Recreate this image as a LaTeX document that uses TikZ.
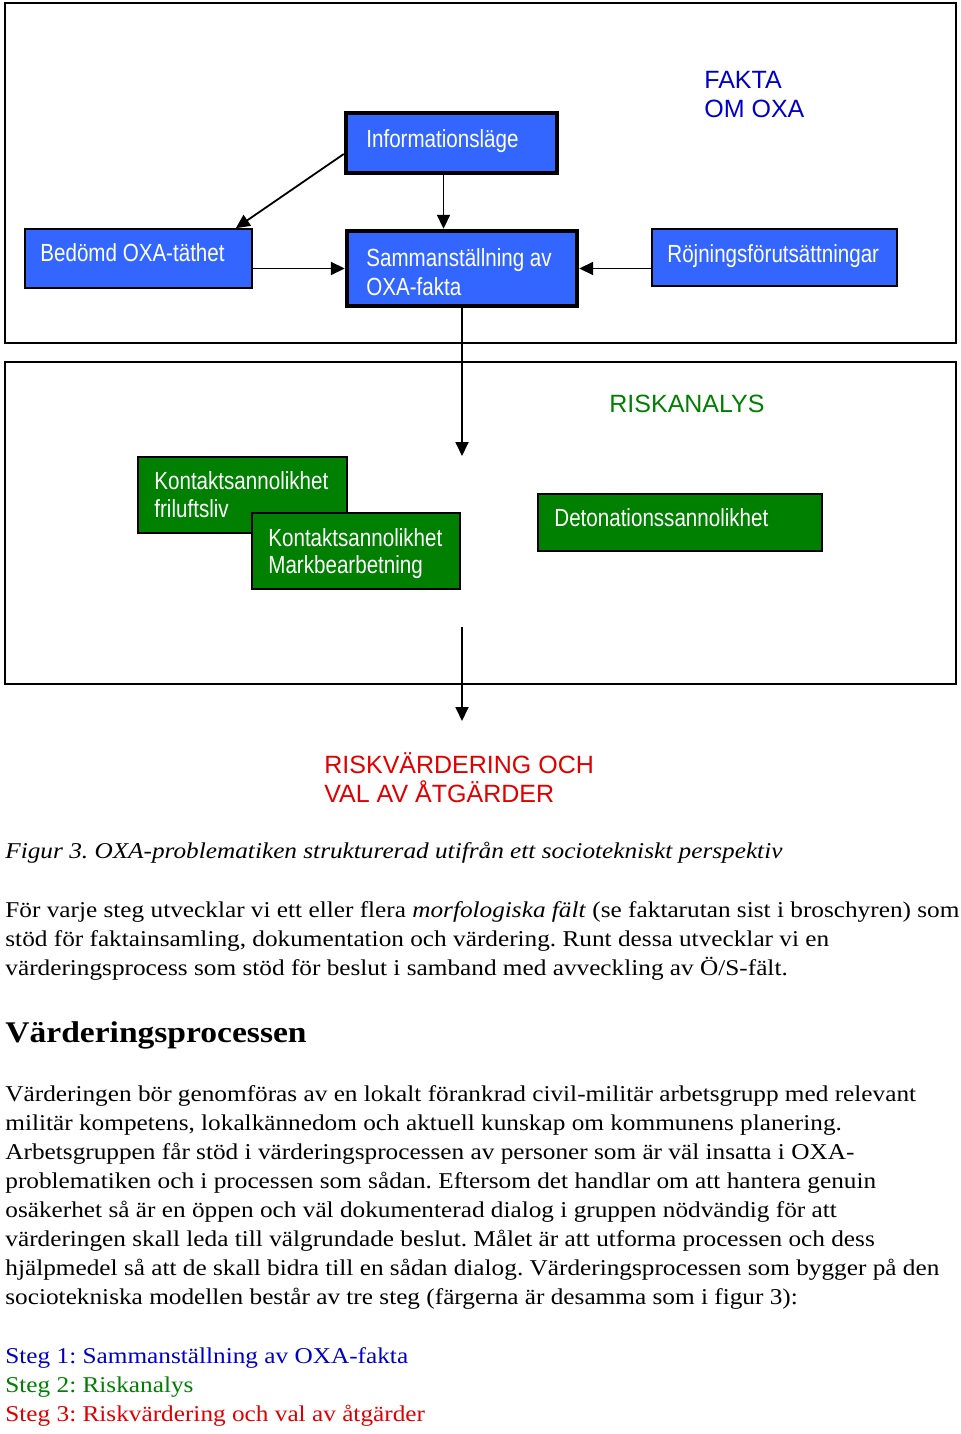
\documentclass[tikz,border=0pt]{standalone}
\usepackage{fontspec}
\setmainfont[FakeStretch=1.118]{Liberation Serif}
\newfontfamily\arialfont{Liberation Sans}
\newfontfamily\narrowfont[FakeStretch=0.83]{Liberation Sans}
\usetikzlibrary{arrows.meta,calc}
\frenchspacing

\definecolor{faktablue}{RGB}{51,102,255}
\definecolor{riskgreen}{RGB}{0,128,0}
\definecolor{rubrikblue}{RGB}{0,0,200}
\definecolor{rubrikred}{RGB}{225,0,0}

\tikzset{
  bluebox/.style={draw=black, fill=faktablue, line width=0.8pt, inner sep=0pt},
  thickbox/.style={bluebox, line width=2.2pt},
  greenbox/.style={bluebox, fill=riskgreen},
  boxtext/.style={anchor=base west, inner sep=0pt, text=white, font=\narrowfont\fontsize{12.4}{14}\selectfont},
  rubrik/.style={anchor=base west, inner sep=0pt, font=\arialfont\fontsize{12.5}{14}\selectfont},
  brodtext/.style={anchor=base west, inner sep=0pt, font=\fontsize{11.3}{13}\selectfont},
  arr/.style={-{Triangle[length=7pt,width=6.5pt]}, line width=0.9pt}
}

\begin{document}
\begin{tikzpicture}[x=0.5pt, y=-0.5pt]
  \useasboundingbox (0,0) rectangle (960,1434);
  % ramar
  \draw[line width=0.9pt] (5,3) rectangle (956,343);
  \draw[line width=0.9pt] (5,362) rectangle (956,684);

  % fakta om oxa
  \node[thickbox, minimum width=105.5pt, minimum height=30pt] (info) at (451.5,143) {};
  \node[thickbox, minimum width=115pt, minimum height=37.5pt] (samm) at (462,268.5) {};
  \node[bluebox, minimum width=113.5pt, minimum height=29.5pt] (bedomd) at (138.5,258.5) {};
  \node[bluebox, minimum width=122.5pt, minimum height=28.5pt] (rojn) at (774.5,257.5) {};
  \node[boxtext] (infotxt) at (366,148) {Informationsläge};
  \node[boxtext] (sammtxt) at (366,266) {Sammanställning av};
  \node[boxtext] (sammtxtb) at (366,295) {OXA-fakta};
  \node[boxtext] (bedomdtxt) at (40,261) {Bedömd OXA-täthet};
  \node[boxtext] (rojntxt) at (667,262) {Röjningsförutsättningar};
  \node[rubrik, text=rubrikblue] (fakta) at (704,89) {FAKTA};
  \node[rubrik, text=rubrikblue] (omoxa) at (704,118) {OM OXA};

  \draw[arr] ([yshift=-5.5pt]info.west) -- ([xshift=-8.5pt]bedomd.north east);
  \draw[arr] ([xshift=-4pt]info.south) -- ([xshift=-4pt]info.south |- samm.north);
  \draw[arr] (bedomd.east |- samm.west) -- (samm.west);
  \draw[arr] (rojn.west |- samm.east) -- (samm.east);

  % riskanalys
  \coordinate (riskin) at (462,456);
  \coordinate (riskut) at (462,627);
  \coordinate (varderin) at (462,721);
  \draw[arr] (samm.south) -- (riskin);
  \draw[arr] (riskut) -- (varderin);

  \node[rubrik, text=riskgreen] (riskanalys) at (609,412) {RISKANALYS};
  \node[greenbox, minimum width=104.5pt, minimum height=38pt] (kontfri) at (242.5,495) {};
  \node[greenbox, minimum width=104pt, minimum height=38pt] (kontmark) at (356,551) {};
  \node[greenbox, minimum width=142pt, minimum height=28.5pt] (deton) at (680,522.5) {};
  \node[boxtext] (kontfritxt) at (154,489) {Kontaktsannolikhet};
  \node[boxtext] (kontfritxtb) at (154,517) {friluftsliv};
  \node[boxtext] (kontmarktxt) at (268,546) {Kontaktsannolikhet};
  \node[boxtext] (kontmarktxtb) at (268,573) {Markbearbetning};
  \node[boxtext] (detontxt) at (554,526) {Detonationssannolikhet};

  % riskvardering
  \node[rubrik, text=rubrikred] (riskvard) at (324,773) {RISKVÄRDERING OCH};
  \node[rubrik, text=rubrikred] (riskvardb) at (324,802) {VAL AV ÅTGÄRDER};

  % text under figuren
  \node[brodtext] (figtext) at (5,858) {\textit{Figur 3. OXA-problematiken strukturerad utifrån ett sociotekniskt perspektiv}};
  \node[brodtext] (stycke1a) at (5,917) {För varje steg utvecklar vi ett eller flera \textit{morfologiska fält} (se faktarutan sist i broschyren) som};
  \node[brodtext] (stycke1b) at (5,946) {stöd för faktainsamling, dokumentation och värdering. Runt dessa utvecklar vi en};
  \node[brodtext] (stycke1c) at (5,975) {värderingsprocess som stöd för beslut i samband med avveckling av Ö/S-fält.};
  \node[brodtext, font=\bfseries\fontsize{15}{17}\selectfont] (rubrikvard) at (5,1042) {Värderingsprocessen};
  \node[brodtext] (stycke2a) at (5,1101) {Värderingen bör genomföras av en lokalt förankrad civil-militär arbetsgrupp med relevant};
  \node[brodtext] (stycke2b) at (5,1130) {militär kompetens, lokalkännedom och aktuell kunskap om kommunens planering.};
  \node[brodtext] (stycke2c) at (5,1159) {Arbetsgruppen får stöd i värderingsprocessen av personer som är väl insatta i OXA-};
  \node[brodtext] (stycke2d) at (5,1188) {problematiken och i processen som sådan. Eftersom det handlar om att hantera genuin};
  \node[brodtext] (stycke2e) at (5,1217) {osäkerhet så är en öppen och väl dokumenterad dialog i gruppen nödvändig för att};
  \node[brodtext] (stycke2f) at (5,1246) {värderingen skall leda till välgrundade beslut. Målet är att utforma processen och dess};
  \node[brodtext] (stycke2g) at (5,1275) {hjälpmedel så att de skall bidra till en sådan dialog. Värderingsprocessen som bygger på den};
  \node[brodtext] (stycke2h) at (5,1304) {sociotekniska modellen består av tre steg (färgerna är desamma som i figur 3):};
  \node[brodtext, text=rubrikblue] (steg1) at (5,1363) {Steg 1: Sammanställning av OXA-fakta};
  \node[brodtext, text=riskgreen] (steg2) at (5,1392) {Steg 2: Riskanalys};
  \node[brodtext, text=rubrikred] (steg3) at (5,1421) {Steg 3: Riskvärdering och val av åtgärder};
\end{tikzpicture}
\end{document}
